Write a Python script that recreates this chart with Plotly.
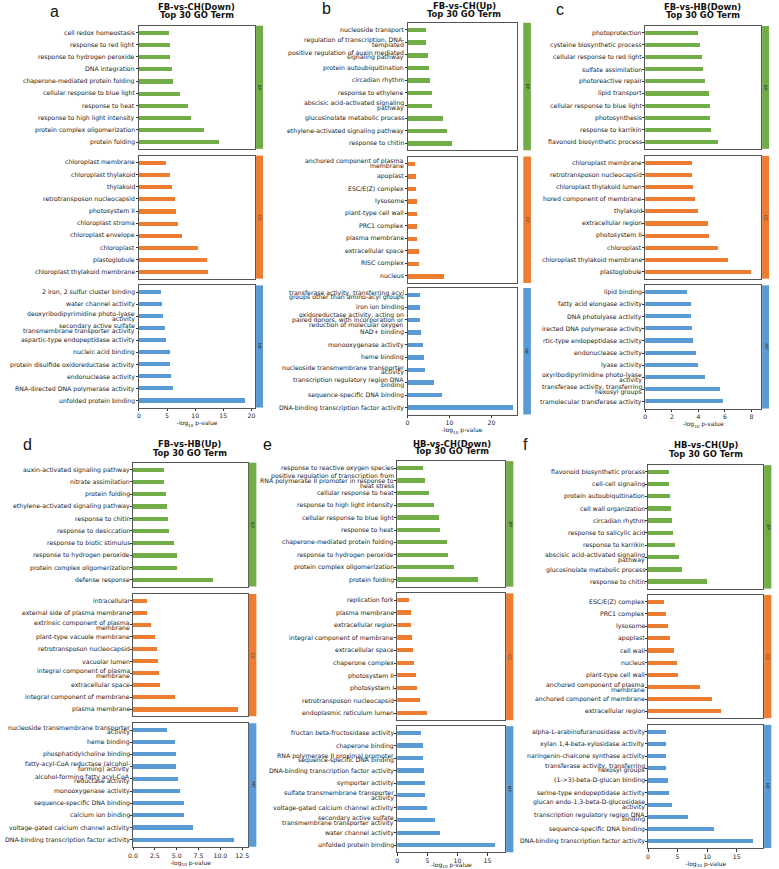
import plotly.graph_objects as go

W, H = 779, 869

# ---------------- data ----------------
A_TITLE = "FB-vs-CH(Down)"
A_BP_TERMS = ["cell redox homeostasis", "response to red light", "response to hydrogen peroxide", "DNA integration",
              "chaperone-mediated protein folding", "cellular response to blue light", "response to heat",
              "response to high light intensity", "protein complex oligomerization", "protein folding"]
A_BP_VALUES = [5.4, 5.5, 5.6, 5.8, 6.1, 7.35, 8.7, 9.2, 11.6, 14.2]
A_CC_TERMS = ["chloroplast membrane", "chloroplast thylakoid", "thylakoid", "retrotransposon nucleocapsid",
              "photosystem II", "chloroplast stroma", "chloroplast envelope", "chloroplast", "plastoglobule",
              "chloroplast thylakoid membrane"]
A_CC_VALUES = [4.8, 5.5, 5.9, 6.4, 6.5, 6.9, 7.7, 10.5, 12.1, 12.2]
A_MF_TERMS = ["2 iron, 2 sulfur cluster binding", "water channel activity",
              "deoxyribodipyrimidine photo-lyase<br>activity",
              "secondary active sulfate<br>transmembrane transporter activity",
              "aspartic-type endopeptidase activity", "nucleic acid binding",
              "protein disulfide oxidoreductase activity", "endonuclease activity",
              "RNA-directed DNA polymerase activity", "unfolded protein binding"]
A_MF_VALUES = [3.9, 4.1, 4.3, 4.7, 4.8, 5.6, 5.6, 5.7, 6.0, 18.9]

B_TITLE = "FB-vs-CH(Up)"
B_BP_TERMS = ["nucleoside transport", "regulation of transcription, DNA-<br>templated",
              "positive regulation of auxin mediated<br>signaling pathway", "protein autoubiquitination",
              "circadian rhythm", "response to ethylene", "abscisic acid-activated signaling<br>pathway",
              "glucosinolate metabolic process", "ethylene-activated signaling pathway", "response to chitin"]
B_BP_VALUES = [4.17, 4.25, 4.65, 4.96, 5.2, 5.75, 5.75, 8.4, 9.3, 10.55]
B_CC_TERMS = ["anchored component of plasma<br>membrane", "apoplast", "ESC/E(Z) complex", "lysosome",
              "plant-type cell wall", "PRC1 complex", "plasma membrane", "extracellular space", "RISC complex",
              "nucleus"]
B_CC_VALUES = [1.73, 1.97, 1.97, 2.05, 2.05, 2.13, 2.2, 2.68, 2.68, 8.5]
B_MF_TERMS = ["transferase activity, transferring acyl<br>groups other than amino-acyl groups", "iron ion binding",
              "oxidoreductase activity, acting on<br>paired donors, with incorporation or<br>reduction of molecular oxygen",
              "NAD+ binding", "monooxygenase activity", "heme binding",
              "nucleoside transmembrane transporter<br>activity", "transcription regulatory region DNA<br>binding",
              "sequence-specific DNA binding", "DNA-binding transcription factor activity"]
B_MF_VALUES = [2.76, 2.76, 2.91, 3.15, 3.46, 3.78, 4.09, 6.22, 8.1, 25.1]

C_TITLE = "FB-vs-HB(Down)"
C_BP_TERMS = ["photoprotection", "cysteine biosynthetic process", "cellular response to red light",
              "sulfate assimilation", "photoreactive repair", "lipid transport", "cellular response to blue light",
              "photosynthesis", "response to karrikin", "flavonoid biosynthetic process"]
C_BP_VALUES = [4.0, 4.14, 4.29, 4.36, 4.51, 4.79, 4.89, 4.91, 4.96, 5.54]
C_CC_TERMS = ["chloroplast membrane", "retrotransposon nucleocapsid", "chloroplast thylakoid lumen",
              "hored component of membrane", "thylakoid", "extracellular region", "photosystem II", "chloroplast",
              "chloroplast thylakoid membrane", "plastoglobule"]
C_CC_VALUES = [3.52, 3.57, 3.62, 3.79, 4.01, 4.74, 4.79, 5.54, 6.23, 7.96]
C_MF_TERMS = ["lipid binding", "fatty acid elongase activity", "DNA photolyase activity",
              "irected DNA polymerase activity", "rtic-type endopeptidase activity", "endonuclease activity",
              "lyase activity", "oxyribodipyrimidine photo-lyase<br>activity",
              "transferase activity, transferring<br>hexosyl groups", "tramolecular transferase activity"]
C_MF_VALUES = [3.19, 3.44, 3.47, 3.52, 3.59, 3.87, 4.0, 4.51, 5.69, 5.86]

D_TITLE = "FB-vs-HB(Up)"
D_BP_TERMS = ["auxin-activated signaling pathway", "nitrate assimilation", "protein folding",
              "ethylene-activated signaling pathway", "response to chitin", "response to desiccation",
              "response to biotic stimulus", "response to hydrogen peroxide", "protein complex oligomerization",
              "defense response"]
D_BP_VALUES = [3.56, 3.6, 3.75, 3.86, 4.05, 4.09, 4.7, 5.0, 5.08, 9.17]
D_CC_TERMS = ["intracellular", "external side of plasma membrane", "extrinsic component of plasma<br>membrane",
              "plant-type vacuole membrane", "retrotransposon nucleocapsid", "vacuolar lumen",
              "integral component of plasma<br>membrane", "extracellular space", "integral component of membrane",
              "plasma membrane"]
D_CC_VALUES = [1.55, 1.63, 2.08, 2.5, 2.77, 2.84, 3.03, 3.1, 4.81, 12.05]
D_MF_TERMS = ["nucleoside transmembrane transporter<br>activity", "heme binding", "phosphatidylcholine binding",
              "fatty-acyl-CoA reductase (alcohol-<br>forming) activity",
              "alcohol-forming fatty acyl-CoA<br>reductase activity", "monooxygenase activity",
              "sequence-specific DNA binding", "calcium ion binding", "voltage-gated calcium channel activity",
              "DNA-binding transcription factor activity"]
D_MF_VALUES = [3.94, 4.77, 4.89, 4.92, 5.19, 5.42, 5.8, 5.83, 6.86, 11.55]

E_TITLE = "HB-vs-CH(Down)"
E_BP_TERMS = ["response to reactive oxygen species",
              "positive regulation of transcription from<br>RNA polymerase II promoter in response to<br>heat stress",
              "cellular response to heat", "response to high light intensity", "cellular response to blue light",
              "response to heat", "chaperone-mediated protein folding", "response to hydrogen peroxide",
              "protein complex oligomerization", "protein folding"]
E_BP_VALUES = [4.34, 4.67, 5.38, 6.21, 6.92, 7.2, 8.3, 8.52, 9.45, 13.4]
E_CC_TERMS = ["replication fork", "plasma membrane", "extracellular region", "integral component of membrane",
              "extracellular space", "chaperone complex", "photosystem II", "photosystem I",
              "retrotransposon nucleocapsid", "endoplasmic reticulum lumen"]
E_CC_VALUES = [1.98, 2.31, 2.36, 2.47, 2.64, 2.8, 3.13, 3.3, 3.9, 5.0]
E_MF_TERMS = ["fructan beta-fructosidase activity", "chaperone binding",
              "RNA polymerase II proximal promoter<br>sequence-specific DNA binding",
              "DNA-binding transcription factor activity", "symporter activity",
              "sulfate transmembrane transporter<br>activity", "voltage-gated calcium channel activity",
              "secondary active sulfate<br>transmembrane transporter activity", "water channel activity",
              "unfolded protein binding"]
E_MF_VALUES = [4.01, 4.29, 4.4, 4.45, 4.67, 4.67, 4.95, 6.32, 7.09, 16.3]

F_TITLE = "HB-vs-CH(Up)"
F_BP_TERMS = ["flavonoid biosynthetic process", "cell-cell signaling", "protein autoubiquitination",
              "cell wall organization", "circadian rhythm", "response to salicylic acid", "response to karrikin",
              "abscisic acid-activated signaling<br>pathway", "glucosinolate metabolic process", "response to chitin"]
F_BP_VALUES = [3.47, 3.58, 3.8, 3.97, 4.14, 4.25, 4.53, 5.32, 5.82, 10.0]
F_CC_TERMS = ["ESC/E(Z) complex", "PRC1 complex", "lysosome", "apoplast", "cell wall", "nucleus",
              "plant-type cell wall", "anchored component of plasma<br>membrane", "anchored component of membrane",
              "extracellular region"]
F_CC_VALUES = [2.69, 2.97, 3.3, 3.75, 4.36, 4.98, 5.04, 8.79, 10.86, 12.37]
F_MF_TERMS = ["alpha-L-arabinofuranosidase activity", "xylan 1,4-beta-xylosidase activity",
              "naringenin-chalcone synthase activity", "transferase activity, transferring<br>hexosyl groups",
              "(1->3)-beta-D-glucan binding", "serine-type endopeptidase activity",
              "glucan endo-1,3-beta-D-glucosidase<br>activity", "transcription regulatory region DNA<br>binding",
              "sequence-specific DNA binding", "DNA-binding transcription factor activity"]
F_MF_VALUES = [2.97, 2.97, 2.97, 2.97, 3.3, 3.53, 4.14, 6.77, 11.25, 17.8]

CATEGORY_TAGS = ["BP", "CC", "MF"]
X_TICKS = {"a": [0, 5, 10, 15, 20], "b": [0, 10, 20], "c": [0, 2, 4, 6, 8],
           "d": [0, 2.5, 5, 7.5, 10, 12.5], "e": [0, 5, 10, 15], "f": [0, 5, 10, 15]}

# ---------------- styling / geometry (pixels) ----------------
COLORS = ["#70AD47", "#ED7D31", "#5B9BD5"]
FONT = "DejaVu Sans"
TXT = "#1a1a1a"
PAD = 0.56
LABEL_SIZE = 6.2
LINE_STEP = 4.6   # px between wrapped label lines (tight, as in the source)

PANELS = [
    dict(letter="a", title=A_TITLE, groups=[(A_BP_TERMS, A_BP_VALUES), (A_CC_TERMS, A_CC_VALUES), (A_MF_TERMS, A_MF_VALUES)],
         px=(135, 252.3), strip=(253, 260), boxes=[(25.7, 149), (155.7, 279), (285.7, 408)], xmax=20.7,
         tc=193, ty=(6.7, 15), lp=(50, 11.7), tickfmt=None),
    dict(letter="b", title=B_TITLE, groups=[(B_BP_TERMS, B_BP_VALUES), (B_CC_TERMS, B_CC_VALUES), (B_MF_TERMS, B_MF_VALUES)],
         px=(405.7, 515.5), strip=(522.3, 530), boxes=[(22.7, 150.5), (156.7, 283.3), (288.3, 415)], xmax=25.96,
         tc=463, ty=(6, 14), lp=(324, 9), tickfmt=None),
    dict(letter="c", title=C_TITLE, groups=[(C_BP_TERMS, C_BP_VALUES), (C_CC_TERMS, C_CC_VALUES), (C_MF_TERMS, C_MF_VALUES)],
         px=(645.3, 762), strip=(763, 770), boxes=[(26, 149), (156, 279), (285.7, 409)], xmax=8.73,
         tc=703.3, ty=(6.7, 14.7), lp=(559, 10), tickfmt=None),
    dict(letter="d", title=D_TITLE, groups=[(D_BP_TERMS, D_BP_VALUES), (D_CC_TERMS, D_CC_VALUES), (D_MF_TERMS, D_MF_VALUES)],
         px=(129, 245), strip=(245.7, 253.3), boxes=[(463.3, 587.3), (594.7, 717), (724, 847.7)], xmax=13.18,
         tc=186.7, ty=(445, 453.3), lp=(22.7, 445), tickfmt=".1f"),
    dict(letter="e", title=E_TITLE, groups=[(E_BP_TERMS, E_BP_VALUES), (E_CC_TERMS, E_CC_VALUES), (E_MF_TERMS, E_MF_VALUES)],
         px=(395.3, 504.3), strip=(505, 512.3), boxes=[(461.7, 587.3), (594, 721), (727, 853.3)], xmax=17.97,
         tc=450.3, ty=(445, 451.7), lp=(264.7, 445), tickfmt=None),
    dict(letter="f", title=F_TITLE, groups=[(F_BP_TERMS, F_BP_VALUES), (F_CC_TERMS, F_CC_VALUES), (F_MF_TERMS, F_MF_VALUES)],
         px=(648, 764.3), strip=(765, 772.3), boxes=[(465.7, 589.3), (595.7, 719), (725.7, 849)], xmax=19.53,
         tc=706.7, ty=(446, 454.3), lp=(524.3, 445), tickfmt=None),
]


def fx(p):
    return p / W


def fy(p):
    return 1 - p / H


fig = go.Figure()
layout = {}
shapes = []
annotations = []
idx = 0
for P in PANELS:
    for k, (terms, vals) in enumerate(P["groups"]):
        idx += 1
        sfx = "" if idx == 1 else str(idx)
        xa, ya = "x" + sfx, "y" + sfx
        pos = list(range(len(vals)))
        fig.add_trace(go.Bar(x=vals, y=pos, orientation="h", width=0.35,
                             marker=dict(color=COLORS[k], line=dict(width=0)),
                             xaxis=xa, yaxis=ya, showlegend=False, hoverinfo="skip"))
        top, bot = P["boxes"][k]
        is_last = (k == 2)
        xax = dict(domain=[fx(P["px"][0]), fx(P["px"][1])], anchor=ya, range=[0, P["xmax"]],
                   showgrid=False, zeroline=False, showline=True, mirror=True,
                   linecolor="#555555", linewidth=1,
                   showticklabels=is_last, ticks="outside" if is_last else "", ticklen=2.5,
                   tickcolor="#333333", tickwidth=0.8,
                   tickvals=X_TICKS[P["letter"]],
                   tickfont=dict(family=FONT, size=6.2, color=TXT))
        if is_last:
            if P["tickfmt"]:
                xax["tickformat"] = P["tickfmt"]
            xax["title"] = dict(text="-log<sub>10</sub> p-value", standoff=1,
                                font=dict(family=FONT, size=6, color=TXT))
        yax = dict(domain=[fy(bot), fy(top)], anchor=xa, range=[len(vals) - 1 + PAD, -PAD],
                   showgrid=False, zeroline=False, showline=True, mirror=True,
                   linecolor="#555555", linewidth=1,
                   tickvals=pos, showticklabels=False, ticks="outside", ticklen=2,
                   tickcolor="#333333", tickwidth=0.8)
        layout["xaxis" + sfx] = xax
        layout["yaxis" + sfx] = yax
        # category term labels, placed on the y scale (wrapped lines set tightly)
        for p_i, term in zip(pos, terms):
            lines = term.split("<br>")
            n = len(lines)
            for j, line in enumerate(lines):
                annotations.append(dict(text=line, xref=xa, yref=ya, x=0, y=p_i,
                                        xanchor="right", yanchor="middle", xshift=-2.5,
                                        yshift=((n - 1) / 2 - j) * LINE_STEP, showarrow=False,
                                        borderpad=0, font=dict(family=FONT, size=LABEL_SIZE, color=TXT)))
        # side category strip
        shapes.append(dict(type="rect", xref="paper", yref="paper",
                           x0=fx(P["strip"][0]), x1=fx(P["strip"][1]), y0=fy(bot), y1=fy(top),
                           fillcolor=COLORS[k], line=dict(width=0), layer="above"))
        annotations.append(dict(text=CATEGORY_TAGS[k], xref="paper", yref="paper",
                                x=fx(sum(P["strip"]) / 2), y=fy((top + bot) / 2), textangle=90,
                                showarrow=False, font=dict(family=FONT, size=4.5, color="#333333"),
                                xanchor="center", yanchor="middle"))
    # titles
    annotations.append(dict(text="<b>" + P["title"] + "</b>", xref="paper", yref="paper",
                            x=fx(P["tc"]), y=fy(P["ty"][0]), showarrow=False,
                            font=dict(family=FONT, size=8.4, color="#111111"), xanchor="center", yanchor="middle"))
    annotations.append(dict(text="<b>Top 30 GO Term</b>", xref="paper", yref="paper",
                            x=fx(P["tc"]), y=fy(P["ty"][1]), showarrow=False,
                            font=dict(family=FONT, size=8.4, color="#111111"), xanchor="center", yanchor="middle"))
    annotations.append(dict(text=P["letter"], xref="paper", yref="paper",
                            x=fx(P["lp"][0]), y=fy(P["lp"][1]), showarrow=False,
                            font=dict(family="Liberation Sans", size=16, color="#111111"),
                            xanchor="center", yanchor="middle"))

fig.update_layout(width=W, height=H, margin=dict(l=0, r=0, t=0, b=0),
                  paper_bgcolor="white", plot_bgcolor="white",
                  shapes=shapes, annotations=annotations, bargap=0, **layout)
fig.write_html("out.html")
